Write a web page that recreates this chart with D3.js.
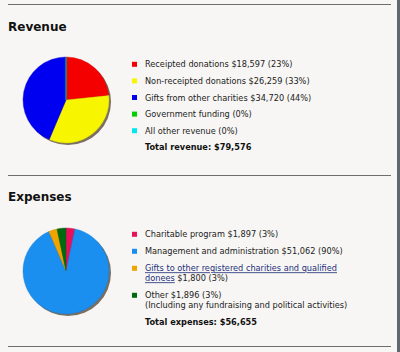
<!DOCTYPE html>
<html><head><meta charset="utf-8">
<script src="https://cdn.jsdelivr.net/npm/d3@7"></script>
<style>
html,body{margin:0;padding:0;background:#f7f6f4;}
svg{display:block;}
</style></head>
<body>
<svg id="c" width="400" height="352"></svg>
<script>
// ---- data ----
const revenueLabels = [["Receipted donations $18,597 (23%)"],["Non-receipted donations $26,259 (33%)"],["Gifts from other charities $34,720 (44%)"],["Government funding (0%)"],["All other revenue (0%)"]];
const revenueValues = [18597, 26259, 34720, 0, 0];
const revenueColors = ["#f50000","#f8f500","#0000f0","#00d000","#00e8f0"];
const revenueTotal = "Total revenue: $79,576";

const expenseLabels = [["Charitable program $1,897 (3%)"],["Management and administration $51,062 (90%)"],["Gifts to other registered charities and qualified","donees $1,800 (3%)"],["Other $1,896 (3%)","(Including any fundraising and political activities)"]];
const expenseValues = [1897, 51062, 1800, 1896];
const expenseColors = ["#e8105a","#1a8ff0","#f0a400","#006a10"];
const expenseLinks = [false,false,true,false];
const expenseTotal = "Total expenses: $56,655";

const svg = d3.select("#c");
const font = "'DejaVu Sans', Verdana, sans-serif";

// separators
[4.5, 175.5, 346.5].forEach(y => svg.append("line").attr("x1",8).attr("x2",391).attr("y1",y).attr("y2",y).attr("stroke","#6e6e6e").attr("stroke-width",1.2));
svg.append("rect").attr("x",397).attr("y",0).attr("width",3).attr("height",352).attr("fill","#5e6a70");

function section(title, titleY, cy, labels, values, colors, links, total, rowStart, rowStep) {
  svg.append("text").attr("x",8).attr("y",titleY).text(title)
    .attr("font-family",font).attr("font-weight","bold").attr("font-size",12).attr("fill","#111");
  const cx = 66, r = 43;
  const g = svg.append("g").attr("transform",`translate(${cx},${cy})`);
  g.append("circle").attr("cx",2).attr("cy",2).attr("r",r).attr("fill","#7a6f62");
  const pie = d3.pie().sort(null).value(d=>d)(values);
  const arc = d3.arc().innerRadius(0).outerRadius(r);
  g.selectAll("path.s").data(pie).enter().append("path").attr("class","s")
    .attr("d",arc).attr("fill",(d,i)=>colors[i]).attr("stroke",(d,i)=>d3.color(colors[i]).darker(0.4)).attr("stroke-width",0.4);
  let y = rowStart;
  labels.forEach((lines,i)=>{
    svg.append("rect").attr("x",132).attr("y",y-2.5).attr("width",5).attr("height",5).attr("fill",colors[i]);
    lines.forEach((ln,j)=>{
      const t = svg.append("text").attr("x",145).attr("y",y+3+j*10).text(ln)
        .attr("font-family",font).attr("font-size",8.2).attr("fill","#222");
      if (links && links[i]) {
        const parts = ln.split(" $");
        if (j===0) { t.attr("fill","#23307a").attr("text-decoration","underline"); }
        else {
          t.text(null);
          t.append("tspan").text(parts[0]).attr("fill","#23307a").attr("text-decoration","underline");
          t.append("tspan").text(" $"+parts[1]);
        }
      }
    });
    y += rowStep + 10*(lines.length-1);
  });
  svg.append("text").attr("x",145).attr("y",y+3).text(total)
    .attr("font-family",font).attr("font-weight","bold").attr("font-size",8.2).attr("fill","#111");
}

section("Revenue", 31, 100, revenueLabels, revenueValues, revenueColors, null, revenueTotal, 64.3, 16.6);
section("Expenses", 201, 271, expenseLabels, expenseValues, expenseColors, expenseLinks, expenseTotal, 234.3, 17);
</script>
</body></html>
